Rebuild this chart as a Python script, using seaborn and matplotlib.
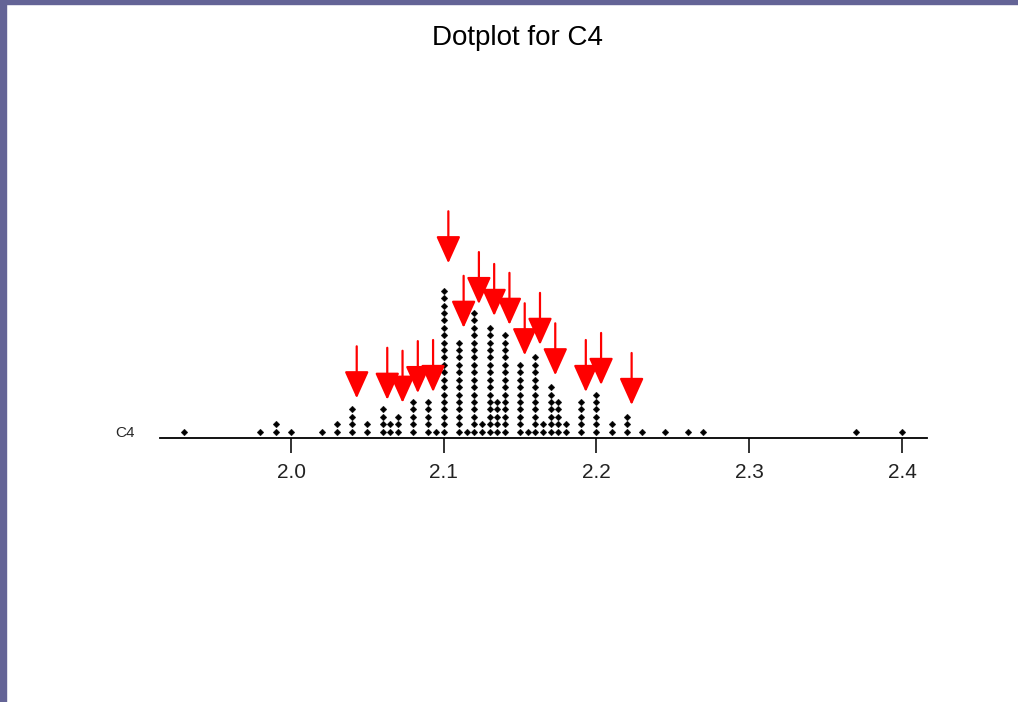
import numpy as np
import pandas as pd
import matplotlib
matplotlib.use("Agg")
import matplotlib.pyplot as plt
from matplotlib.patches import Rectangle, ArrowStyle
import seaborn as sns

# ---- data -------------------------------------------------------------
values = [1.93, 1.98, 1.99, 2.00, 2.02, 2.03, 2.04, 2.05, 2.06, 2.065, 2.07,
          2.08, 2.09, 2.095, 2.10, 2.11, 2.115, 2.12, 2.125, 2.13, 2.135,
          2.14, 2.15, 2.155, 2.16, 2.165, 2.17, 2.175, 2.18, 2.19, 2.20,
          2.21, 2.22, 2.23, 2.245, 2.26, 2.27, 2.37, 2.40]
counts = [1, 1, 2, 1, 1, 2, 4, 2, 4, 2, 3,
          5, 5, 1, 20, 13, 1, 17, 2, 15, 5,
          14, 10, 1, 11, 2, 7, 5, 2, 5, 6,
          2, 3, 1, 1, 1, 1, 1, 1]

arrow_x = [2.04, 2.06, 2.07, 2.08, 2.09, 2.10, 2.11, 2.12, 2.13, 2.14,
           2.15, 2.16, 2.17, 2.19, 2.20, 2.22]
arrow_tip = [5.5, 5.3, 4.9, 6.2, 6.35, 23.7, 15.0, 18.2, 16.6, 15.4,
             11.3, 12.7, 8.6, 6.35, 7.3, 4.6]

tick_values = [2.0, 2.1, 2.2, 2.3, 2.4]
tick_labels = ["2.0", "2.1", "2.2", "2.3", "2.4"]
title = "Dotplot for C4"
var_name = "C4"

# ---- stack the dots ---------------------------------------------------
rows = []
for v, c in zip(values, counts):
    for k in range(c):
        rows.append({"value": v, "level": k + 1})
df = pd.DataFrame(rows)

sns.set_style("white")
plt.rcParams["font.family"] = ["Liberation Sans", "DejaVu Sans"]

W, H = 1018, 702
fig = plt.figure(figsize=(W / 100, H / 100), dpi=100, facecolor="white")

# purple window frame
fig.patches.append(Rectangle((0, 0), 6 / W, 1, transform=fig.transFigure,
                             color="#646496", zorder=0))
fig.patches.append(Rectangle((0, 1 - 4 / H), 1, 4 / H, transform=fig.transFigure,
                             color="#646496", zorder=0))

ax_left, ax_right = 160 / W, 927 / W
ax_bottom, ax_top = (H - 438) / H, (H - 200) / H
ax = fig.add_axes([ax_left, ax_bottom, ax_right - ax_left, ax_top - ax_bottom])
ax.set_facecolor("white")

sns.scatterplot(data=df, x="value", y="level", ax=ax, color="black",
                s=12, marker="D", edgecolor="black", linewidth=0.2, legend=False)

ax.set_xlim(1.9142, 2.4164)
ax.set_ylim(0.15, 0.15 + 238 / 7.42)

# red arrows
style = ArrowStyle("-|>", head_length=0.4, head_width=0.18)
for xv, tip in zip(arrow_x, arrow_tip):
    ax.annotate("", xy=(xv + 0.003, tip), xytext=(0, 52), textcoords="offset pixels",
                arrowprops=dict(arrowstyle=style, mutation_scale=42, color="#ff0000",
                                lw=1.6, shrinkA=0, shrinkB=0),
                annotation_clip=False)

for s in ["top", "right", "left"]:
    ax.spines[s].set_visible(False)
ax.spines["bottom"].set_linewidth(1.3)
ax.spines["bottom"].set_color("black")

ax.set_xticks(tick_values)
ax.set_xticklabels(tick_labels, fontsize=15)
ax.tick_params(axis="x", direction="out", length=11, width=1.3, color="#222222",
               pad=7, bottom=True, labelcolor="#222222")
ax.set_yticks([1])
ax.set_yticklabels([var_name], fontsize=11)
ax.tick_params(axis="y", length=0, pad=18)
ax.set_xlabel("")
ax.set_ylabel("")

fig.text(518 / W, 1 - 38 / H, title, ha="center", va="center", fontsize=20,
         color="black")

fig.savefig("out.png", dpi=100, facecolor="white")
